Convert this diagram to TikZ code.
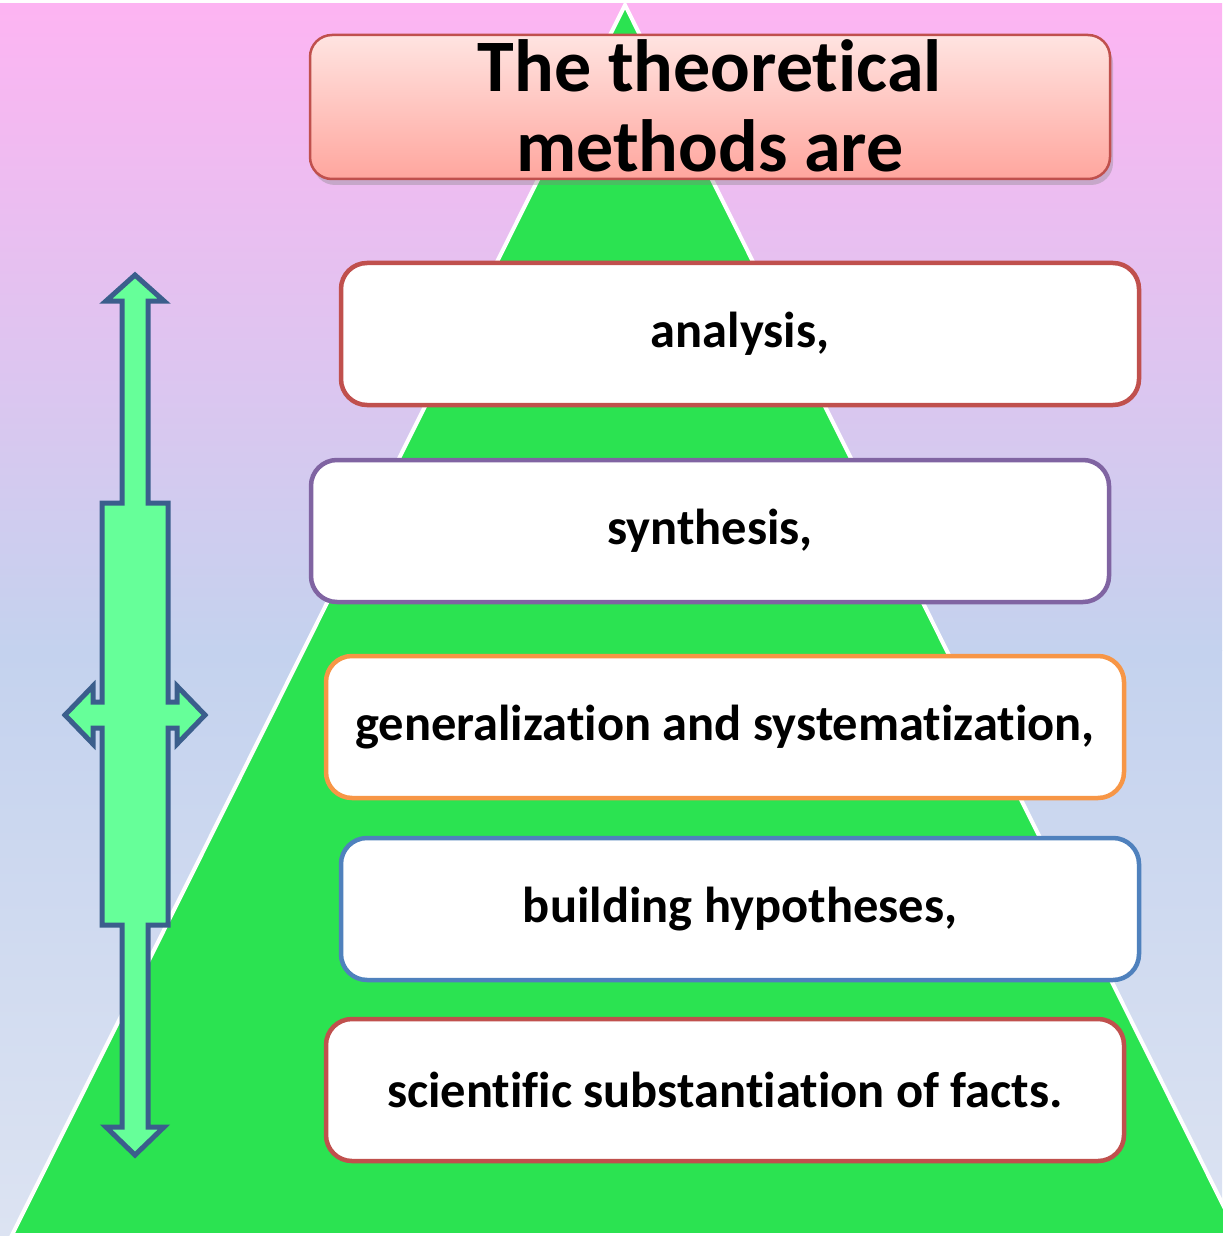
\documentclass[tikz,border=0pt]{standalone}
\usepackage{fontspec}
\setmainfont{Carlito}[Ligatures=NoCommon]
\usetikzlibrary{shadows}
\definecolor{bgtop}{HTML}{FDB4F2}
\definecolor{bgmid}{HTML}{C4D2EE}
\definecolor{bgbot}{HTML}{DCE3F2}
\definecolor{tri}{HTML}{2BE351}
\definecolor{ttop}{HTML}{FFE4E1}
\definecolor{tbot}{HTML}{FFA69E}
\definecolor{cred}{HTML}{C0504D}
\definecolor{cpurple}{HTML}{8064A2}
\definecolor{corange}{HTML}{F79646}
\definecolor{cblue}{HTML}{4F81BD}
\definecolor{afill}{HTML}{66FF99}
\definecolor{aline}{HTML}{3B5E8C}
\tikzset{
  titlebox/.style={draw=cred, line width=2.5pt, rounded corners=22pt,
    top color=ttop, bottom color=tbot, minimum width=800pt, minimum height=144pt,
    align=center, font=\fontsize{74}{80}\selectfont\bfseries, inner sep=0pt,
    drop shadow={shadow xshift=3pt, shadow yshift=-6pt, opacity=0.35}},
  itembox/.style={draw=#1, fill=white, line width=4.5pt, rounded corners=26pt,
    minimum width=798pt, minimum height=142pt, inner sep=0pt,
    font=\fontsize{50.5}{54}\selectfont\bfseries},
  bigarrow/.style={fill=afill, draw=aline, line width=5pt, line join=miter}
}
\begin{document}
\begin{tikzpicture}[x=1pt,y=-1pt]
\useasboundingbox (0,0) rectangle (1222,1238);
\fill[white] (0,0) rectangle (1222,1238);
\shade[top color=bgtop, bottom color=bgmid] (0,4) rectangle (1222,650);
\shade[top color=bgmid, bottom color=bgbot] (0,650) rectangle (1222,1235);
\draw[white, line width=4pt, fill=tri, line join=miter] (625,5) -- (12,1235) -- (1238,1235) -- cycle;

\node[titlebox] (title) at (710,107) {\raisebox{3pt}{The theoretical}\\\raisebox{3pt}{methods are}};

\node[itembox=cred] (analysis) at (740,334) {analysis,};
\node[itembox=cpurple] (synthesis) at (710,531) {synthesis,};
\node[itembox=corange] (general) at (725,727) {generalization and systematization,};
\node[itembox=cblue] (building) at (740,909) {building hypotheses,};
\node[itembox=cred] (facts) at (725,1090) {scientific substantiation of facts.};

\draw[bigarrow] (135,275) -- (164,301) -- (148,301) -- (148,503) -- (168,503)
  -- (168,702) -- (177,702) -- (177,686) -- (205,715) -- (177,744) -- (177,728)
  -- (168,728) -- (168,925) -- (148,925) -- (148,1127) -- (164,1127) -- (135,1155)
  -- (106,1127) -- (122,1127) -- (122,925) -- (102,925) -- (102,728) -- (93,728)
  -- (93,744) -- (65,715) -- (93,686) -- (93,702) -- (102,702) -- (102,503)
  -- (122,503) -- (122,301) -- (106,301) -- cycle;
\end{tikzpicture}
\end{document}
